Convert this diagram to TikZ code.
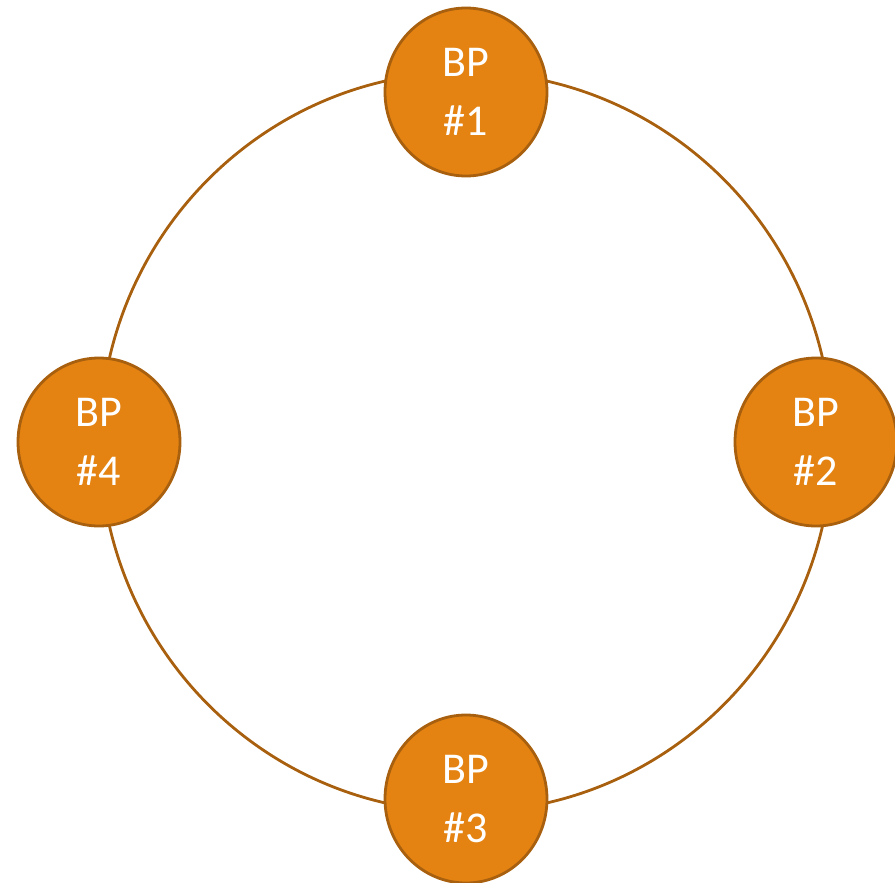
\documentclass[tikz,border=0pt]{standalone}
\usepackage{fontspec}
\setmainfont{Carlito}
\usetikzlibrary{shapes.geometric}
\definecolor{bpfill}{HTML}{E48312}
\definecolor{bpline}{HTML}{A8600F}
\tikzset{
  bp/.style={ellipse, draw=bpline, line width=2.8pt, fill=bpfill, minimum width=162pt, minimum height=168pt, inner sep=0pt, text=white, font=\fontsize{44}{59}\selectfont, align=center},
  ring/.style={draw=bpline, line width=2.8pt}
}
\begin{document}
\begin{tikzpicture}[x=1pt,y=-1pt]
\useasboundingbox (0,0) rectangle (895,883);
\coordinate (c) at (466,442);
\draw[ring] (c) ellipse [x radius=366, y radius=370];
\node[bp] (bp1) at (466,92) {BP\\\#1};
\node[bp] (bp2) at (816,442) {BP\\\#2};
\node[bp] (bp3) at (466,799) {BP\\\#3};
\node[bp] (bp4) at (99,442) {BP\\\#4};
\end{tikzpicture}
\end{document}
